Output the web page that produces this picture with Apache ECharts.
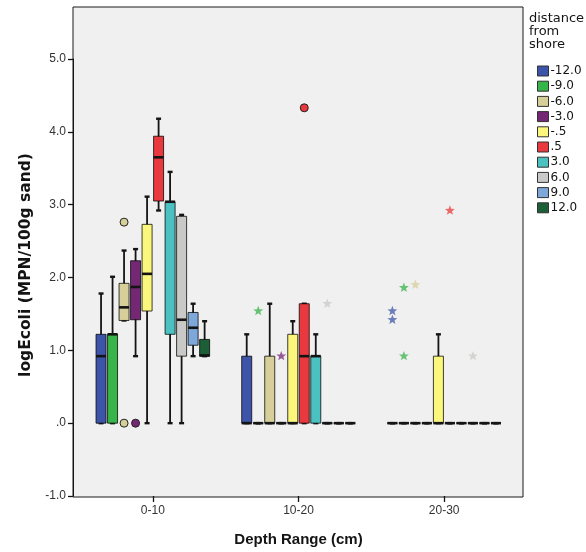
<!DOCTYPE html>
<html>
<head>
<meta charset="utf-8">
<script src="https://cdn.jsdelivr.net/npm/echarts@6/dist/echarts.min.js"></script>
<style>
html,body{margin:0;padding:0;background:#ffffff;}
#chart{width:586px;height:552px;}
</style>
</head>
<body>
<div id="chart"></div>
<script>
// ---------- data ----------
const categories = ['0-10', '10-20', '20-30'];
const distances = ['-12.0', '-9.0', '-6.0', '-3.0', '-.5', '.5', '3.0', '6.0', '9.0', '12.0'];
const yTicks = [-1, 0, 1, 2, 3, 4, 5];

// box statistics per depth range: [min, Q1, median, Q3, max]
const box_m12_0 = [[0, 0, 0.92, 1.22, 1.78], [0, 0, 0, 0.92, 1.22], [0, 0, 0, 0, 0]];
const box_m9_0  = [[0, 0, 1.22, 1.22, 2.01], [0, 0, 0, 0, 0], [0, 0, 0, 0, 0]];
const box_m6_0  = [[1.41, 1.41, 1.59, 1.92, 2.37], [0, 0, 0, 0.92, 1.64], [0, 0, 0, 0, 0]];
const box_m3_0  = [[0.92, 1.42, 1.87, 2.23, 2.39], [0, 0, 0, 0, 0], [0, 0, 0, 0, 0]];
const box_m0_5  = [[0, 1.54, 2.05, 2.73, 3.11], [0, 0, 0, 1.22, 1.40], [0, 0, 0, 0.92, 1.22]];
const box_p0_5  = [[2.92, 3.05, 3.65, 3.94, 4.18], [0, 0, 0.92, 1.64, 1.64], [0, 0, 0, 0, 0]];
const box_p3_0  = [[0, 1.22, 3.04, 3.04, 3.45], [0, 0, 0.92, 0.92, 1.22], [0, 0, 0, 0, 0]];
const box_p6_0  = [[0, 0.92, 1.42, 2.84, 2.86], [0, 0, 0, 0, 0], [0, 0, 0, 0, 0]];
const box_p9_0  = [[0.92, 1.07, 1.31, 1.52, 1.64], [0, 0, 0, 0, 0], [0, 0, 0, 0, 0]];
const box_p12_0 = [[0.92, 0.92, 0.93, 1.15, 1.40], [0, 0, 0, 0, 0], [0, 0, 0, 0, 0]];
const boxStats = [box_m12_0, box_m9_0, box_m6_0, box_m3_0, box_m0_5, box_p0_5, box_p3_0, box_p6_0, box_p9_0, box_p12_0];

// outliers (circles) and extremes (stars): [distance index, depth index, value]
const circleOutliers = [[2, 0, 2.76], [2, 0, 0], [3, 0, 0], [5, 1, 4.33]];
const starExtremes = [
  [1, 1, 1.54], [3, 1, 0.92], [7, 1, 1.64],
  [0, 2, 1.54], [0, 2, 1.42], [1, 2, 1.86], [1, 2, 0.92], [2, 2, 1.90], [5, 2, 2.92], [7, 2, 0.92]
];

// ---------- styles ----------
const colors = ['#3d55a8', '#37b44a', '#d6cf99', '#742874', '#fbf77c', '#e8393e', '#4cc1c1', '#c9c9c7', '#7ea7da', '#1c5e35'];
const FONT = 'Liberation Sans, Arial, sans-serif';
const INK = '#141414';

function slotX(api, ci, si) {
  const band = api.size([1, 0])[0];
  const step = band * 0.079;
  return { cx: api.coord([ci, 0])[0] + (si - 4.5) * step, w: step * 0.87 };
}

function boxRenderer(si) {
  return function (params, api) {
    const ci = api.value(0);
    const s = slotX(api, ci, si);
    const cx = s.cx, w = s.w;
    const ys = [1, 2, 3, 4, 5].map(function (d) { return api.coord([ci, api.value(d)])[1]; });
    const yMin = ys[0], yQ1 = ys[1], yMed = ys[2], yQ3 = ys[3], yMax = ys[4];
    const cap = 5;
    return {
      type: 'group',
      children: [
        { type: 'line', shape: { x1: cx, y1: yMax, x2: cx, y2: yMin }, style: { stroke: INK, lineWidth: 1.8 } },
        { type: 'line', shape: { x1: cx - cap / 2, y1: yMax, x2: cx + cap / 2, y2: yMax }, style: { stroke: INK, lineWidth: 2.4 } },
        { type: 'line', shape: { x1: cx - cap / 2, y1: yMin, x2: cx + cap / 2, y2: yMin }, style: { stroke: INK, lineWidth: 2.4 } },
        { type: 'rect', shape: { x: cx - w / 2, y: yQ3, width: w, height: Math.max(yQ1 - yQ3, 0) },
          style: { fill: colors[si], stroke: 'rgba(0,0,0,0.75)', lineWidth: 1 } },
        { type: 'line', shape: { x1: cx - w / 2, y1: yMed, x2: cx + w / 2, y2: yMed }, style: { stroke: INK, lineWidth: 2.6 } }
      ]
    };
  };
}

function circleRenderer(params, api) {
  const si = api.value(0), ci = api.value(1), v = api.value(2);
  const s = slotX(api, ci, si);
  const cy = api.coord([ci, v])[1];
  return { type: 'circle', shape: { cx: s.cx, cy: cy, r: 4 },
    style: { fill: colors[si], stroke: '#222', lineWidth: 1 } };
}

function starRenderer(params, api) {
  const si = api.value(0), ci = api.value(1), v = api.value(2);
  const s = slotX(api, ci, si);
  const cy = api.coord([ci, v])[1];
  const pts = [];
  for (let k = 0; k < 10; k++) {
    const r = k % 2 === 0 ? 5.2 : 2.2;
    const a = -Math.PI / 2 + k * Math.PI / 5;
    pts.push([s.cx + r * Math.cos(a), cy + r * Math.sin(a)]);
  }
  return { type: 'polygon', shape: { points: pts },
    style: { fill: colors[si], opacity: 0.75 } };
}

const series = distances.map(function (name, si) {
  return {
    name: name,
    type: 'custom',
    xAxisIndex: 1, yAxisIndex: 1,
    renderItem: boxRenderer(si),
    encode: { x: 0, y: [1, 2, 3, 4, 5] },
    data: categories.map(function (c, ci) { return [ci].concat(boxStats[si][ci]); }),
    z: 2
  };
});
series.push({
  name: 'outliers', type: 'custom', xAxisIndex: 1, yAxisIndex: 1,
  renderItem: circleRenderer, encode: { x: 1, y: 2 }, data: circleOutliers, z: 3
});
series.push({
  name: 'extremes', type: 'custom', xAxisIndex: 1, yAxisIndex: 1,
  renderItem: starRenderer, encode: { x: 1, y: 2 }, data: starExtremes, z: 3
});

const chart = echarts.init(document.getElementById('chart'), null, { renderer: 'canvas' });
chart.setOption({
  animation: false,
  backgroundColor: '#ffffff',
  textStyle: { fontFamily: FONT },
  grid: [
    { left: 73, top: 7, width: 450, height: 490, show: true, backgroundColor: '#f0f0f0', borderColor: '#1a1a1a', borderWidth: 1 },
    { left: 80, top: 59, width: 437, height: 438, show: false }
  ],
  xAxis: [
    { gridIndex: 0, type: 'value', show: false },
    {
      gridIndex: 1, type: 'category', data: categories, boundaryGap: true,
      axisLine: { show: false, onZero: false },
      axisTick: { show: true, alignWithLabel: true, length: 6, lineStyle: { color: INK, width: 1.3 } },
      axisLabel: { color: '#333', fontSize: 12, margin: 9, fontFamily: FONT },
      splitLine: { show: false },
      name: 'Depth Range (cm)', nameLocation: 'middle', nameGap: 36,
      nameTextStyle: { fontWeight: 'bold', fontSize: 15, color: INK, fontFamily: FONT }
    }
  ],
  yAxis: [
    { gridIndex: 0, type: 'value', show: false },
    {
      gridIndex: 1, type: 'value', min: yTicks[0], max: yTicks[yTicks.length - 1], interval: 1, offset: 7,
      axisLine: { show: true, onZero: false, lineStyle: { color: INK } },
      axisTick: { show: true, length: 5, lineStyle: { color: INK, width: 1.3 } },
      axisLabel: { color: '#333', fontSize: 12, margin: 7, fontFamily: FONT,
        formatter: function (v) { return v === 0 ? '.0' : v.toFixed(1); } },
      splitLine: { show: false }
    }
  ],
  legend: {
    orient: 'vertical', left: 532, top: 60,
    itemWidth: 11, itemHeight: 10, itemGap: 3.2,
    selectedMode: false,
    textStyle: { fontFamily: 'DejaVu Sans', fontSize: 12, color: INK, lineHeight: 12, padding: [0, 0, 0, -3] },
    data: distances.map(function (d, i) {
      return { name: d, icon: 'rect', itemStyle: { color: colors[i], borderColor: '#333', borderWidth: 1 } };
    })
  },
  graphic: [
    { type: 'text', left: 529, top: 12,
      style: { text: 'distance\nfrom\nshore', fontFamily: 'DejaVu Sans', fontSize: 13, lineHeight: 13, fill: INK } },
    { type: 'text', x: 26, y: 265, rotation: Math.PI / 2,
      style: { text: 'logEcoli (MPN/100g sand)', fontFamily: 'DejaVu Sans', fontWeight: 'bold', fontSize: 15.5,
        align: 'center', verticalAlign: 'middle', fill: INK } }
  ],
  series: series
});
</script>
</body>
</html>
